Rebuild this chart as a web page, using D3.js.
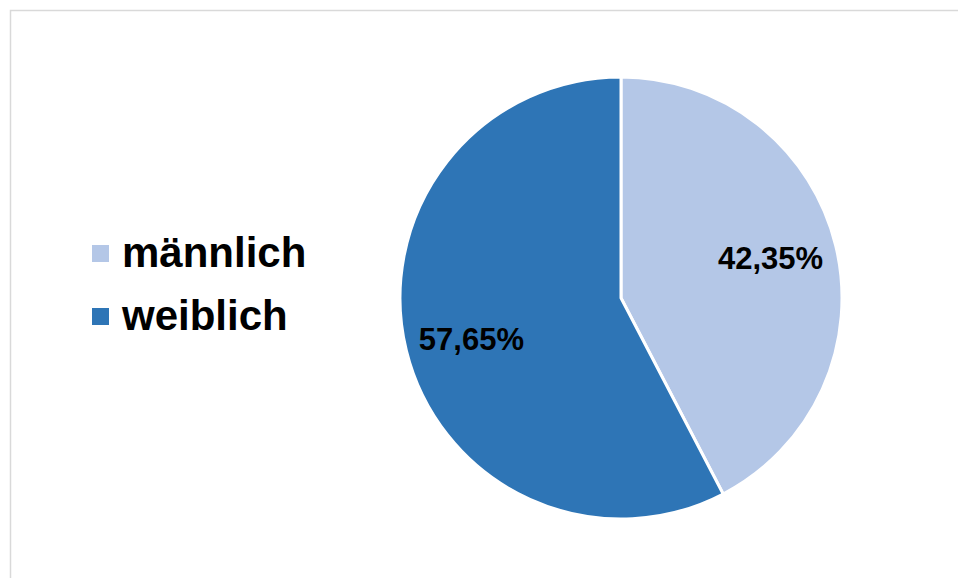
<!DOCTYPE html>
<meta charset="utf-8">
<style>
body { margin: 0; background: #fff; }
svg { display: block; font-family: "Liberation Sans", Arial, sans-serif; }
.label { font-weight: bold; }
</style>
<body>
<script src="https://d3js.org/d3.v7.min.js"></script>
<script>

// chart data
var categories = ["männlich", "weiblich"];
var values = [42.35, 57.65];
var labels = ["42,35%", "57,65%"];
var colors = ["#b4c7e7", "#2e75b6"];

var width = 958, height = 578;

var svg = d3.select("body").append("svg")
    .attr("width", width)
    .attr("height", height);

// chart area border (only top and left edges are inside the picture)
svg.append("rect")
    .attr("x", 10.5).attr("y", 10.5)
    .attr("width", width + 20).attr("height", height + 20)
    .attr("fill", "none")
    .attr("stroke", "#d9d9d9")
    .attr("stroke-width", 1.5);

var cx = 621, cy = 298, radius = 221;

var pie = d3.pie().sort(null).value(function(d) { return d; });
var arc = d3.arc().innerRadius(0).outerRadius(radius);
var labelArc = d3.arc().innerRadius(155).outerRadius(155);

var g = svg.append("g")
    .attr("transform", "translate(" + cx + "," + cy + ")");

var arcs = pie(values);

g.selectAll("path")
    .data(arcs)
  .enter().append("path")
    .attr("d", arc)
    .attr("fill", function(d, i) { return colors[i]; })
    .attr("stroke", "#fff")
    .attr("stroke-width", 3)
    .attr("stroke-linejoin", "round");

// value labels, nudged a little like the Excel placement
g.selectAll("text.label")
    .data(arcs)
  .enter().append("text")
    .attr("class", "label")
    .attr("transform", function(d) {
      var c = d3.arc().innerRadius(155).outerRadius(155)
        .centroid({startAngle: d.startAngle - 0.025, endAngle: d.endAngle - 0.025});
      return "translate(" + c + ")";
    })
    .attr("text-anchor", "middle")
    .attr("dy", "0.36em")
    .style("font-size", "31px")
    .attr("fill", "#000")
    .text(function(d, i) { return labels[i]; });

// legend
var legend = svg.append("g").attr("transform", "translate(92,245)");

var item = legend.selectAll("g")
    .data(categories)
  .enter().append("g")
    .attr("transform", function(d, i) { return "translate(0," + (i * 63) + ")"; });

item.append("rect")
    .attr("width", 17).attr("height", 17)
    .attr("fill", function(d, i) { return colors[i]; });

item.append("text")
    .attr("class", "label")
    .attr("x", 30).attr("y", 22)
    .style("font-size", "42px")
    .attr("fill", "#000")
    .text(function(d) { return d; });

</script>
</body>
